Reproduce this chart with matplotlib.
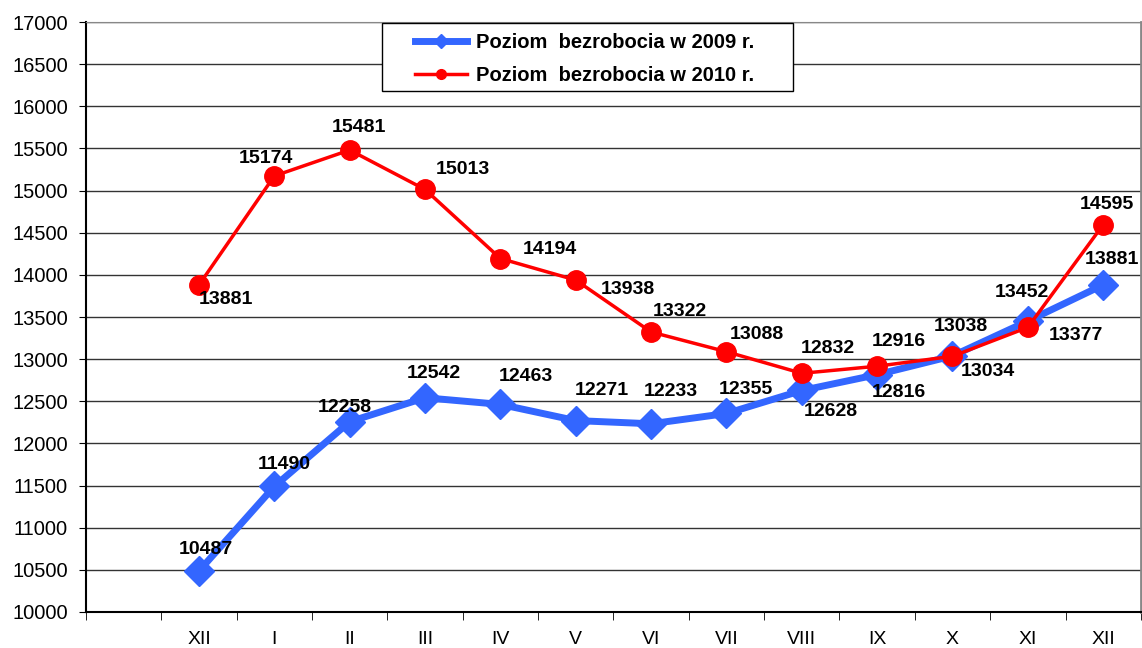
import matplotlib.pyplot as plt
from matplotlib.patches import Rectangle

plt.rcParams['font.family'] = ['Liberation Sans', 'DejaVu Sans']

months = ["", "XII", "I", "II", "III", "IV", "V", "VI", "VII", "VIII",
          "IX", "X", "XI", "XII"]
y2009 = [10487, 11490, 12258, 12542, 12463, 12271, 12233, 12355, 12628,
         12816, 13038, 13452, 13881]
y2010 = [13881, 15174, 15481, 15013, 14194, 13938, 13322, 13088, 12832,
         12916, 13034, 13377, 14595]

# label offsets in pixels (dx, dy) relative to each marker
off2009 = [(7, 21), (10, 22), (-5, 14), (9, 24), (25, 28), (26, 30),
           (20, 32), (19, 24), (29, -21), (22, -18), (8, 29), (-6, 29),
           (9, 25)]
off2010 = [(27, -15), (-8, 17), (9, 23), (38, 20), (49, 9), (52, -9),
           (29, 21), (30, 17), (26, 25), (22, 25), (35, -15), (48, -8),
           (4, 20)]

x = list(range(1, len(months)))

fig = plt.figure(figsize=(11.42, 6.48), dpi=100)
ax = fig.add_axes([0.0753, 0.0556, 0.9237, 0.9104])

ax.plot(x, y2009, color='#3366FF', lw=5, marker='D', markersize=15,
        label='Poziom  bezrobocia w 2009 r.', zorder=3)
ax.plot(x, y2010, color='#FF0000', lw=2.5, marker='o', markersize=14,
        label='Poziom  bezrobocia w 2010 r.', zorder=4)

for vals, offs in ((y2009, off2009), (y2010, off2010)):
    for xi, v, (dx, dy) in zip(x, vals, offs):
        ax.annotate(str(v), (xi, v), xytext=(dx * 0.72, dy * 0.72),
                    textcoords='offset points', ha='center', va='center',
                    fontsize=14, fontweight='bold', zorder=5)

ax.set_xlim(-0.5, len(months) - 0.5)
ax.set_ylim(10000, 17000)
ax.set_yticks(range(10000, 17001, 500))
ax.tick_params(axis='y', labelsize=14.5, length=5, direction='out', pad=8)
ax.set_xticks(range(len(months)))
ax.set_xticklabels(months, fontsize=14)
ax.set_xticks([i - 0.5 for i in range(len(months) + 1)], minor=True)
ax.tick_params(axis='x', which='major', length=0, pad=14)
ax.tick_params(axis='x', which='minor', length=6, direction='out')

ax.grid(axis='y', color='#333333', lw=1)
ax.set_axisbelow(True)
ax.spines['left'].set_linewidth(1.5)
ax.spines['bottom'].set_linewidth(1.5)
ax.spines['top'].set_color('#888888')
ax.spines['right'].set_color('#888888')
ax.spines['right'].set_linewidth(2)

# legend frame drawn separately so its padding matches the original
ax.add_patch(Rectangle((0.2806, 0.883), 0.3895, 0.115, transform=ax.transAxes,
                       facecolor='white', edgecolor='black', lw=1, zorder=6,
                       clip_on=False))
leg = ax.legend(loc='upper left', bbox_to_anchor=(0.312, 0.981),
                prop={'size': 14.5, 'weight': 'bold'}, markerscale=0.5,
                handlelength=2.6, handletextpad=0.4, frameon=False,
                borderpad=0, borderaxespad=0, labelspacing=0.7)
leg.set_zorder(7)

fig.savefig('out.png', dpi=100)
